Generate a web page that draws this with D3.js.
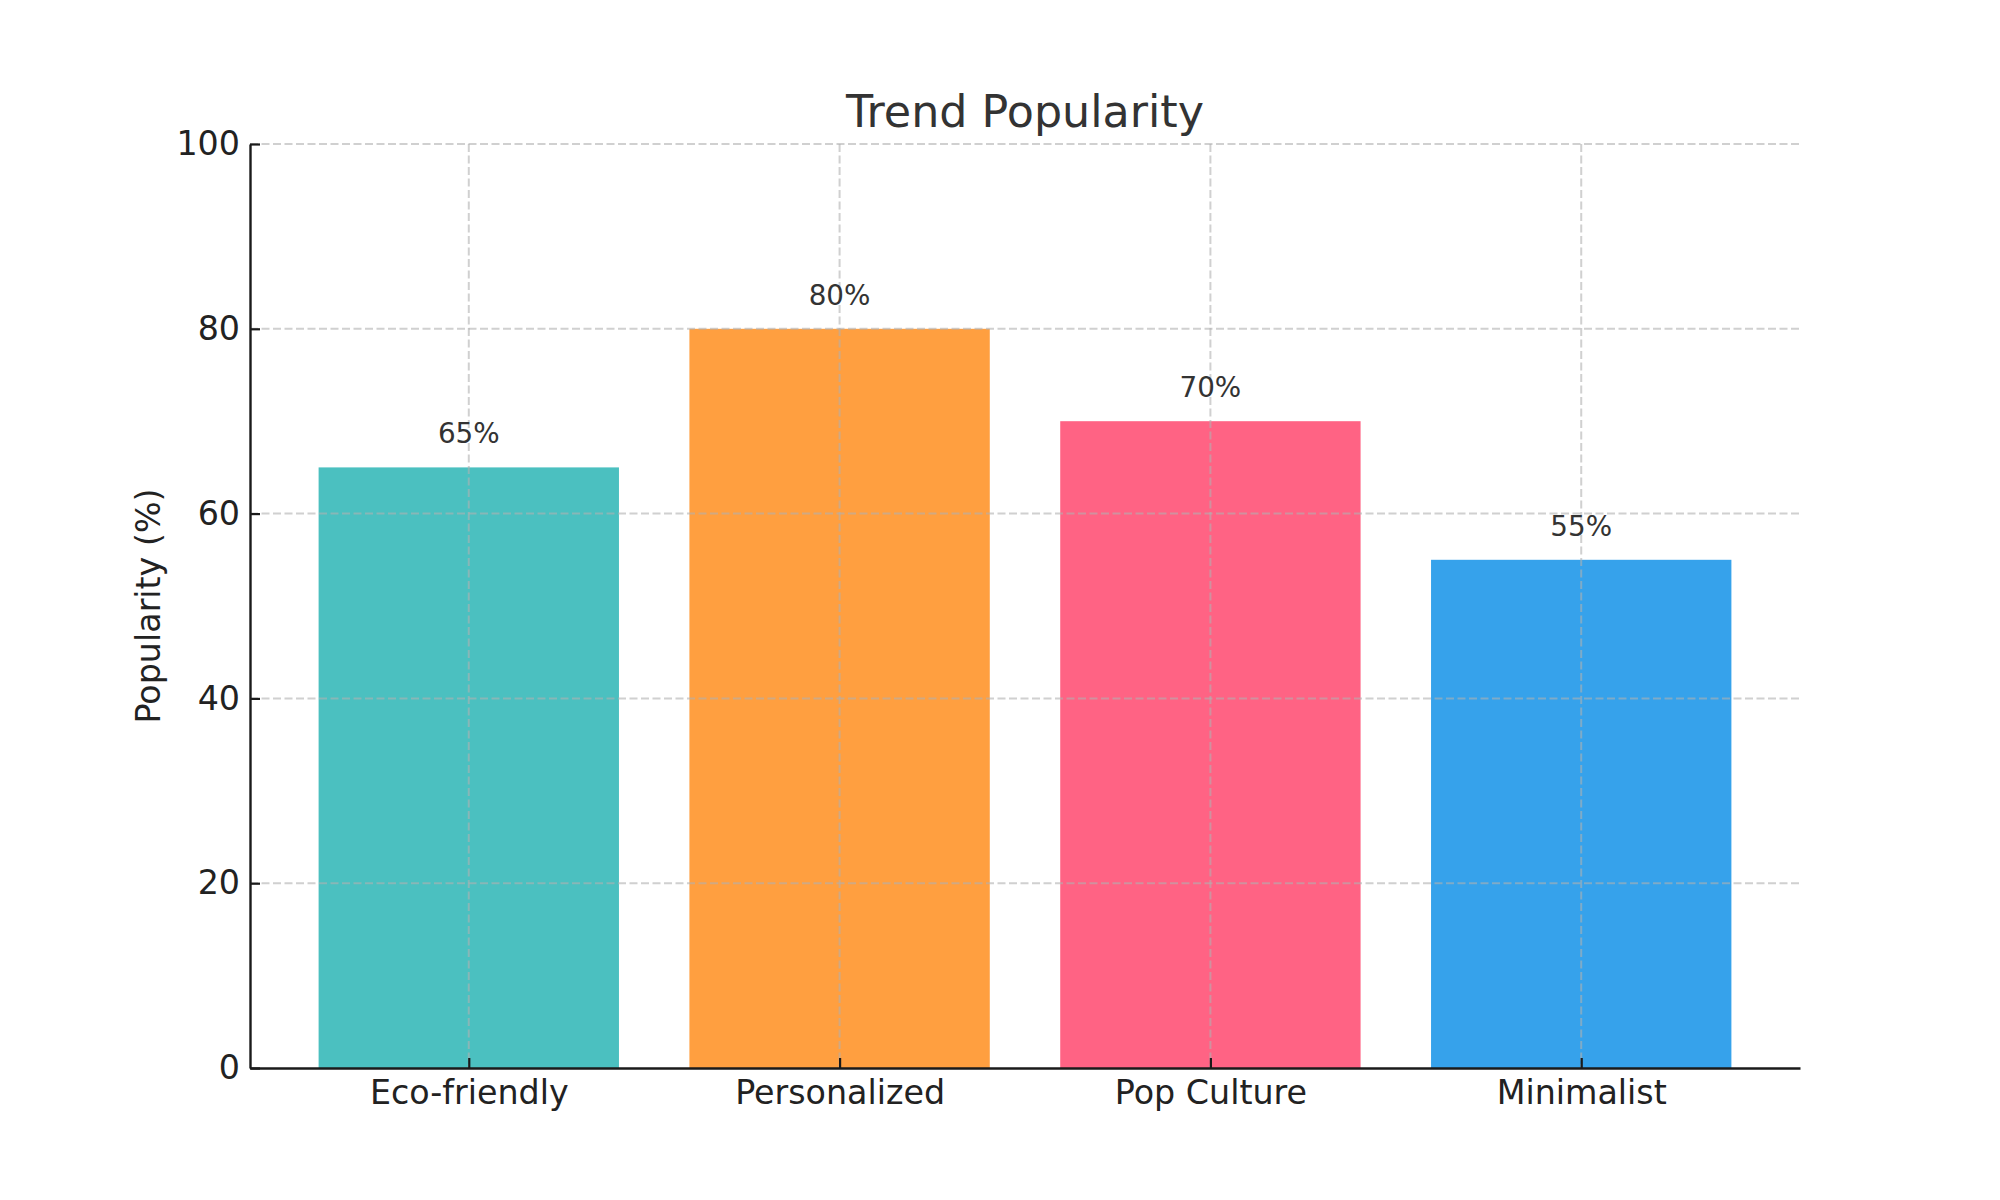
<!DOCTYPE html>
<html>
<head>
<meta charset="utf-8">
<script src="https://cdn.jsdelivr.net/npm/d3@7"></script>
<style>
  html, body { margin: 0; padding: 0; background: #fff; }
  svg { display: block; font-family: "DejaVu Sans", sans-serif; }
</style>
</head>
<body>
<svg id="chart" width="2000" height="1200"></svg>
<script>
const categories = ["Eco-friendly", "Personalized", "Pop Culture", "Minimalist"];
const values = [65, 80, 70, 55];
const colors = ["#4BC0C0", "#FF9F40", "#FF6384", "#36A2EB"];
const yTicks = [0, 20, 40, 60, 80, 100];
const title = "Trend Popularity";
const yLabel = "Popularity (%)";

const svg = d3.select("#chart");
const plotLeft = 250, plotRight = 1800, plotTop = 144, plotBottom = 1068;

// matplotlib-like continuous x: categories at 0..3, bar width 0.8, margin 0.05
const x = d3.scaleLinear().domain([-0.59, categories.length - 1 + 0.59]).range([plotLeft, plotRight]);
const y = d3.scaleLinear().domain([0, 100]).range([plotBottom, plotTop]);
const barW = x(0.81) - x(0);

// bars
svg.append("g").selectAll("rect").data(values).join("rect")
  .attr("x", (d, i) => x(i) - barW / 2)
  .attr("y", d => y(d))
  .attr("width", barW)
  .attr("height", d => y(0) - y(d))
  .attr("fill", (d, i) => colors[i]);

// grid (drawn over bars)
const grid = svg.append("g").attr("stroke", "#b0b0b0").attr("stroke-opacity", 0.6)
  .attr("stroke-width", 2).attr("stroke-dasharray", "8,3.5").attr("fill", "none");
grid.selectAll("line.h").data(yTicks.filter(t => t > 0)).join("line")
  .attr("class", "h")
  .attr("x1", plotLeft).attr("x2", plotRight)
  .attr("y1", d => y(d)).attr("y2", d => y(d));
grid.selectAll("line.v").data(categories).join("line")
  .attr("class", "v")
  .attr("x1", (d, i) => x(i)).attr("x2", (d, i) => x(i))
  .attr("y1", plotTop).attr("y2", plotBottom);

// y axis
const yAxis = svg.append("g").attr("transform", `translate(${plotLeft},0)`)
  .call(d3.axisLeft(y).tickValues(yTicks).tickSize(-10).tickSizeOuter(0).tickPadding(10));
yAxis.select(".domain").attr("stroke", "#1a1a1a").attr("stroke-width", 2.4);
yAxis.selectAll(".tick line").attr("stroke", "#1a1a1a").attr("stroke-width", 2.2);
yAxis.selectAll(".tick text").attr("font-size", 33.3).attr("fill", "#222")
  .attr("font-family", "DejaVu Sans");

// x axis
const xAxis = svg.append("g").attr("transform", `translate(0,${plotBottom})`)
  .call(d3.axisBottom(x).tickValues(d3.range(categories.length))
    .tickFormat(i => categories[i]).tickSize(-10).tickSizeOuter(0).tickPadding(12));
xAxis.select(".domain").attr("stroke", "#1a1a1a").attr("stroke-width", 2.4);
xAxis.selectAll(".tick line").attr("stroke", "#1a1a1a").attr("stroke-width", 2.2);
xAxis.selectAll(".tick text").attr("font-size", 33.3).attr("fill", "#222")
  .attr("font-family", "DejaVu Sans");

// value labels
svg.append("g").selectAll("text").data(values).join("text")
  .attr("x", (d, i) => x(i))
  .attr("y", d => y(d) - 24)
  .attr("text-anchor", "middle")
  .attr("font-size", 27.8)
  .attr("fill", "#333")
  .text(d => d + "%");

// title
svg.append("text")
  .attr("x", (plotLeft + plotRight) / 2).attr("y", 127)
  .attr("text-anchor", "middle").attr("font-size", 44.4).attr("fill", "#333")
  .text(title);

// y label
svg.append("text")
  .attr("transform", `translate(160,${(plotTop + plotBottom) / 2}) rotate(-90)`)
  .attr("text-anchor", "middle").attr("font-size", 33.3).attr("fill", "#222")
  .text(yLabel);
</script>
</body>
</html>
